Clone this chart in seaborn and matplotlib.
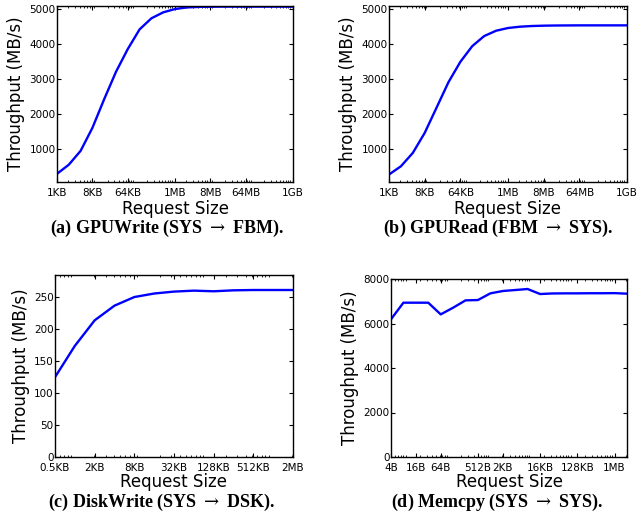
import matplotlib
matplotlib.use("Agg")
import matplotlib.pyplot as plt
import seaborn as sns
import pandas as pd
from matplotlib.ticker import FixedLocator, FixedFormatter, NullFormatter

# ---------------- data ----------------
# (a) GPUWrite: request size exponents (2^k bytes) and throughput MB/s
gpuwrite_exp = [10, 11, 12, 13, 14, 15, 16, 17, 18, 19, 20, 21, 22, 23, 24, 25, 26, 27, 28, 29, 30]
gpuwrite_tp = [290, 550, 945, 1600, 2420, 3200, 3850, 4410, 4725, 4895, 4990, 5035, 5050, 5055,
               5058, 5058, 5058, 5058, 5058, 5058, 5058]
gpuwrite_ticks_exp = [10, 13, 16, 20, 23, 26, 30]
gpuwrite_ticklabels = ["1KB", "8KB", "64KB", "1MB", "8MB", "64MB", "1GB"]

# (b) GPURead
gpuread_exp = [10, 11, 12, 13, 14, 15, 16, 17, 18, 19, 20, 21, 22, 23, 24, 25, 26, 27, 28, 29, 30]
gpuread_tp = [270, 505, 886, 1457, 2180, 2905, 3486, 3933, 4219, 4371, 4448, 4486, 4505, 4515,
              4520, 4522, 4524, 4524, 4524, 4524, 4524]
gpuread_ticks_exp = [10, 13, 16, 20, 23, 26, 30]
gpuread_ticklabels = ["1KB", "8KB", "64KB", "1MB", "8MB", "64MB", "1GB"]

# (c) DiskWrite
disk_exp = [9, 10, 11, 12, 13, 14, 15, 16, 17, 18, 19, 20, 21]
disk_tp = [125, 174, 214, 237, 250.5, 256, 259, 260.5, 259.5, 261, 261.5, 261.5, 261.5]
disk_ticks_exp = [9, 11, 13, 15, 17, 19, 21]
disk_ticklabels = ["0.5KB", "2KB", "8KB", "32KB", "128KB", "512KB", "2MB"]

# (d) Memcpy
memcpy_exp = [2, 3, 4, 5, 6, 7, 8, 9, 10, 11, 12, 13, 14, 15, 16, 17, 18, 19, 20, 21]
memcpy_tp = [6190, 6935, 6935, 6935, 6410, 6710, 7040, 7055, 7355, 7460, 7505, 7550, 7325,
             7350, 7355, 7355, 7360, 7360, 7365, 7340]
memcpy_ticks_exp = [2, 4, 6, 9, 11, 14, 17, 20]
memcpy_ticklabels = ["4B", "16B", "64B", "512B", "2KB", "16KB", "128KB", "1MB"]

captions = ["(a) GPUWrite (SYS $\\rightarrow$ FBM).", "(b) GPURead (FBM $\\rightarrow$ SYS).",
            "(c) DiskWrite (SYS $\\rightarrow$ DSK).", "(d) Memcpy (SYS $\\rightarrow$ SYS)."]

# ---------------- style ----------------
sns.set_style("ticks", {
    "xtick.direction": "in", "ytick.direction": "in",
    "xtick.top": True, "ytick.right": True,
    "axes.edgecolor": "black", "axes.linewidth": 1.0,
    "text.color": "black", "axes.labelcolor": "black",
    "xtick.color": "black", "ytick.color": "black",
})
plt.rcParams["font.family"] = ["DejaVu Sans"]
plt.rcParams["mathtext.fontset"] = "dejavuserif"
plt.rcParams["xtick.major.size"] = 3
plt.rcParams["xtick.minor.size"] = 1.5
plt.rcParams["ytick.major.size"] = 3
plt.rcParams["ytick.minor.size"] = 1.5

W, H = 637, 519
fig = plt.figure(figsize=(W / 100, H / 100), dpi=100)


def rect(l, r, t, b):
    return [l / W, (H - b) / H, (r - l) / W, (b - t) / H]


panels = [
    dict(exp=gpuwrite_exp, tp=gpuwrite_tp, tex=gpuwrite_ticks_exp, tl=gpuwrite_ticklabels,
         rect=rect(57, 293, 6, 182), ylim=(57, 5076), yticks=[1000, 2000, 3000, 4000, 5000],
         cap=(167, 232.5), xpad=2),
    dict(exp=gpuread_exp, tp=gpuread_tp, tex=gpuread_ticks_exp, tl=gpuread_ticklabels,
         rect=rect(389, 627, 6, 182), ylim=(57, 5076), yticks=[1000, 2000, 3000, 4000, 5000],
         cap=(498, 232.5), xpad=2),
    dict(exp=disk_exp, tp=disk_tp, tex=disk_ticks_exp, tl=disk_ticklabels,
         rect=rect(55, 293, 275, 457), ylim=(0, 285), yticks=[0, 50, 100, 150, 200, 250],
         cap=(162, 507), xpad=0.5),
    dict(exp=memcpy_exp, tp=memcpy_tp, tex=memcpy_ticks_exp, tl=memcpy_ticklabels,
         rect=rect(391, 627, 279, 457), ylim=(0, 8000), yticks=[0, 2000, 4000, 6000, 8000],
         cap=(497, 507), xpad=0.5),
]

for p, caption in zip(panels, captions):
    ax = fig.add_axes(p["rect"])
    sizes = [2.0 ** e for e in p["exp"]]
    df = pd.DataFrame({"size": sizes, "tp": p["tp"]})
    ax.set_xscale("log")
    sns.lineplot(data=df, x="size", y="tp", ax=ax, color="#0000ff", lw=1.7)
    ax.set_xlim(sizes[0], sizes[-1])
    ax.set_ylim(*p["ylim"])
    ax.set_yticks(p["yticks"])
    ax.xaxis.set_major_locator(FixedLocator([2.0 ** e for e in p["tex"]]))
    ax.xaxis.set_major_formatter(FixedFormatter(p["tl"]))
    ax.xaxis.set_minor_formatter(NullFormatter())
    ax.tick_params(axis="x", which="both", labelsize=7.5, pad=4, top=True, direction="in",
                   colors="black")
    ax.tick_params(axis="y", which="both", labelsize=7.5, pad=1, right=True, direction="in",
                   colors="black")
    ax.set_xlabel("Request Size", fontsize=12, labelpad=p["xpad"], color="black")
    ax.set_ylabel("Throughput (MB/s)", fontsize=12, labelpad=3, color="black")
    for s in ax.spines.values():
        s.set_visible(True)
        s.set_linewidth(1.0)
        s.set_color("black")
    cx, cy = p["cap"]
    fig.text(cx / W, 1 - cy / H, caption, ha="center", va="baseline", fontsize=13,
             fontweight="bold", color="black", family=["Liberation Serif", "DejaVu Serif"])

fig.savefig("out.png", dpi=100)
